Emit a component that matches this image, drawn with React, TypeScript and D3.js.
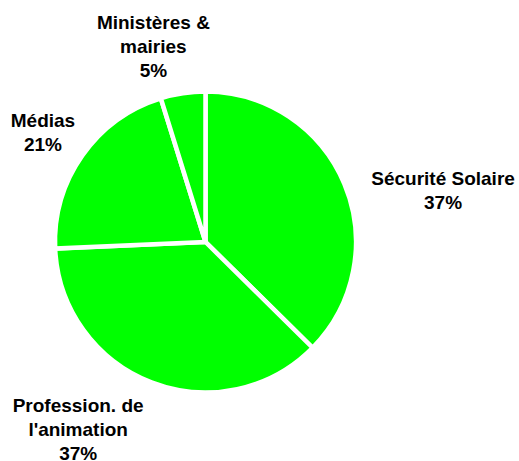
import { useRef, useEffect } from "react";
import * as d3 from "d3";

// slices, clockwise from 12 o'clock
const categories = ["Sécurité Solaire", "Profession. de l'animation", "Médias", "Ministères & mairies"];
const values = [37.4, 36.9, 20.9, 4.8];
// how each label is broken over lines (the percent goes on the last line)
const labelLines = [["Sécurité Solaire"], ["Profession. de", "l'animation"], ["Médias"], ["Ministères &", "mairies"]];

export default function App() {
  const svgRef = useRef<SVGSVGElement>(null);

  useEffect(() => {
    const svg = d3.select(svgRef.current);
    svg.selectAll("*").remove();

    const width = 519;
    const height = 461;
    const cx = 205.5;
    const cy = 242;
    const radius = 150.5;
    const labelRadius = 200;
    const lineHeight = 24;
    const fontSize = 19;
    // small nudges so the labels sit where the original put them
    const nudge = [
      [53, 25.7],
      [-55.5, 0.1],
      [1.1, 4.7],
      [-22.1, 2.3],
    ];

    svg.attr("width", width).attr("height", height).attr("viewBox", `0 0 ${width} ${height}`);

    const data = categories.map((c, i) => ({ name: c, value: values[i], i }));
    const total = d3.sum(values);
    const pct = d3.format(".0%");

    const pie = d3
      .pie<any>()
      .sort(null)
      .value((d) => d.value)
      .startAngle(0)
      .endAngle(2 * Math.PI);

    const arcs = pie(data);
    const arc = d3.arc<any>().innerRadius(0).outerRadius(radius);
    const labelArc = d3.arc<any>().innerRadius(labelRadius).outerRadius(labelRadius);

    const g = svg.append("g").attr("transform", `translate(${cx},${cy})`);

    g.selectAll("path")
      .data(arcs)
      .join("path")
      .attr("d", arc)
      .attr("fill", "#00ff00")
      .attr("stroke", "#ffffff")
      .attr("stroke-width", 4.5)
      .attr("stroke-linejoin", "miter");

    // Labels
    arcs.forEach((a, k) => {
      const [x, y] = labelArc.centroid(a);
      const lx = x + nudge[k][0];
      const ly = y + nudge[k][1];
      const lines = [...labelLines[k], pct(a.data.value / total)];
      const first = ly - ((lines.length - 1) * lineHeight) / 2 + fontSize * 0.358;
      const t = g
        .append("text")
        .attr("text-anchor", "middle")
        .attr("font-family", "'Liberation Sans', Arial, sans-serif")
        .attr("font-weight", "bold")
        .attr("font-size", fontSize)
        .attr("fill", "#000");
      lines.forEach((line, j) => {
        t.append("tspan").attr("x", lx).attr("y", first + j * lineHeight).text(line);
      });
    });
  }, []);

  return (
    <div style={{ position: "fixed", left: 0, top: 0, width: 519, height: 461, background: "#fff" }}>
      <svg ref={svgRef} style={{ display: "block" }} />
    </div>
  );
}
